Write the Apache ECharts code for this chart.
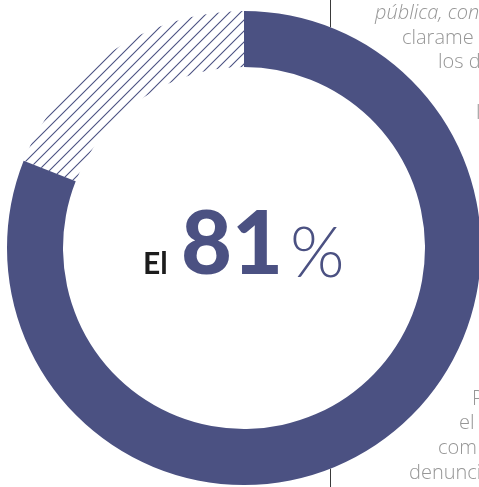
<!DOCTYPE html>
<html>
<head>
<meta charset="utf-8">
<script src="https://cdn.jsdelivr.net/npm/echarts@6/dist/echarts.min.js"></script>
<style>
  html, body { margin: 0; padding: 0; background: #ffffff; }
  #chart { width: 479px; height: 487px; }
</style>
</head>
<body>
<div id="chart"></div>
<script>
// Share shown in the ring: first slice solid, remainder hatched
const categories = ['Sí', 'Resto'];
const values = [81, 19];

// Body text running beside the ring (clipped by the page edge)
const sideLines = [
  { text: 'pública, con', italic: true, x: 375, base: 19 },
  { text: 'clarame', x: 402, base: 44 },
  { text: 'los d', x: 438, base: 68 },
  { text: 'l', x: 476, base: 119 },
  { text: 'P', x: 472, base: 405 },
  { text: 'el', x: 459, base: 429 },
  { text: 'com', x: 438, base: 454 },
  { text: 'denunci', x: 409, base: 479 }
];

const BLUE = '#4b5182';
const CX = 244, CY = 248, R_OUT = 237, R_IN = 181;

// Diagonal hatch tile for the remainder slice
function hatchPattern() {
  const s = 11;
  const c = document.createElement('canvas');
  c.width = s; c.height = s;
  const g = c.getContext('2d');
  g.strokeStyle = BLUE;
  g.lineWidth = 1.1;
  g.beginPath();
  g.moveTo(0, s); g.lineTo(s, 0);
  g.moveTo(-s / 2, s / 2); g.lineTo(s / 2, -s / 2);
  g.moveTo(s / 2, s + s / 2); g.lineTo(s + s / 2, s / 2);
  g.stroke();
  return { image: c, repeat: 'repeat' };
}

const chart = echarts.init(document.getElementById('chart'), null, { renderer: 'canvas' });

const sideFont = 20;
const sideTexts = sideLines.map(l => ({
  type: 'text',
  x: l.x,
  y: l.base + 4,
  silent: true,
  z: 1,
  style: {
    text: l.text,
    fontFamily: 'Open Sans',
    fontWeight: 300,
    fontStyle: l.italic ? 'italic' : 'normal',
    fontSize: sideFont,
    fill: '#969696',
    verticalAlign: 'bottom',
    align: 'left'
  }
}));

chart.setOption({
  animation: false,
  graphic: [
    {
      // column rule, hidden behind the ring's white disc
      type: 'line',
      z: -2,
      silent: true,
      shape: { x1: 330.5, y1: 0, x2: 330.5, y2: 487 },
      style: { stroke: '#3a3a3a', lineWidth: 1 }
    },
    {
      type: 'circle',
      z: -1,
      silent: true,
      shape: { cx: CX, cy: CY, r: R_OUT },
      style: { fill: '#ffffff' }
    },
    ...sideTexts,
    {
      type: 'text', x: 143, y: 279, z: 10, silent: true,
      style: { text: 'El', fontFamily: 'Lato', fontWeight: 'bold', fontSize: 30,
               fill: '#1c1c1c', verticalAlign: 'bottom' }
    },
    {
      type: 'text', x: 181, y: 290, z: 10, silent: true,
      style: { text: String(values[0]), fontFamily: 'Lato', fontWeight: 900, fontSize: 88,
               fill: BLUE, verticalAlign: 'bottom' }
    },
    {
      type: 'text', x: 290, y: 289, z: 10, silent: true,
      style: { text: '%', fontFamily: 'Lato', fontWeight: 300, fontSize: 70,
               fill: BLUE, verticalAlign: 'bottom' }
    }
  ],
  series: [{
    type: 'pie',
    center: [CX, CY],
    radius: [R_IN, R_OUT],
    startAngle: 90,
    clockwise: true,
    silent: true,
    z: 2,
    label: { show: false },
    labelLine: { show: false },
    data: [
      { name: categories[0], value: values[0], itemStyle: { color: BLUE } },
      { name: categories[1], value: values[1], itemStyle: { color: hatchPattern() } }
    ]
  }]
});
</script>
</body>
</html>
